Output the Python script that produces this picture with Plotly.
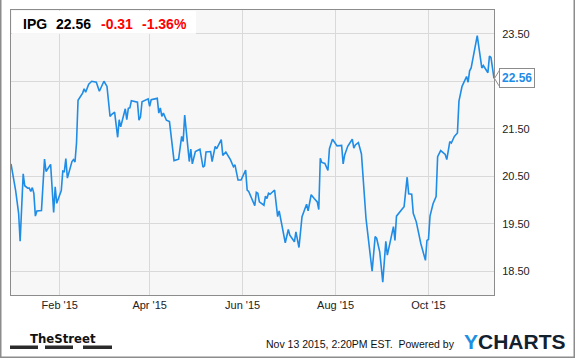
import plotly.graph_objects as go

# ---- data ----
dates = [
    "2014-12-31", "2015-01-03", "2015-01-05", "2015-01-06", "2015-01-08", "2015-01-09",
    "2015-01-11", "2015-01-12", "2015-01-13", "2015-01-14", "2015-01-15", "2015-01-16",
    "2015-01-17", "2015-01-20", "2015-01-22", "2015-01-23", "2015-01-26", "2015-01-28",
    "2015-01-29", "2015-01-30", "2015-02-02", "2015-02-03", "2015-02-04", "2015-02-05",
    "2015-02-06", "2015-02-09", "2015-02-10", "2015-02-11", "2015-02-12", "2015-02-13",
    "2015-02-16", "2015-02-17", "2015-02-18", "2015-02-20", "2015-02-22", "2015-02-25",
    "2015-02-27", "2015-03-02", "2015-03-04", "2015-03-06", "2015-03-07", "2015-03-09",
    "2015-03-11", "2015-03-12", "2015-03-13", "2015-03-16", "2015-03-17", "2015-03-18",
    "2015-03-19", "2015-03-20", "2015-03-24", "2015-03-25", "2015-03-26", "2015-03-27",
    "2015-03-31", "2015-04-01", "2015-04-02", "2015-04-06", "2015-04-07", "2015-04-08",
    "2015-04-09", "2015-04-10", "2015-04-12", "2015-04-14", "2015-04-17", "2015-04-20",
    "2015-04-22", "2015-04-23", "2015-04-24", "2015-04-27", "2015-04-28", "2015-04-29",
    "2015-05-01", "2015-05-04", "2015-05-06", "2015-05-07", "2015-05-08", "2015-05-11",
    "2015-05-12", "2015-05-14", "2015-05-15", "2015-05-18", "2015-05-19", "2015-05-21",
    "2015-05-24", "2015-05-26", "2015-05-27", "2015-05-29", "2015-05-31", "2015-06-03",
    "2015-06-04", "2015-06-05", "2015-06-09", "2015-06-10", "2015-06-11", "2015-06-12",
    "2015-06-15", "2015-06-16", "2015-06-17", "2015-06-18", "2015-06-19", "2015-06-22",
    "2015-06-24", "2015-06-25", "2015-06-29", "2015-07-01", "2015-07-02", "2015-07-05",
    "2015-07-06", "2015-07-08", "2015-07-10", "2015-07-13", "2015-07-14", "2015-07-16",
    "2015-07-18", "2015-07-20", "2015-07-21", "2015-07-22", "2015-07-23", "2015-07-25",
    "2015-07-27", "2015-07-28", "2015-07-30", "2015-08-02", "2015-08-05", "2015-08-06",
    "2015-08-07", "2015-08-09", "2015-08-12", "2015-08-13", "2015-08-14", "2015-08-16",
    "2015-08-18", "2015-08-21", "2015-08-25", "2015-08-27", "2015-08-28", "2015-08-30",
    "2015-09-01", "2015-09-03", "2015-09-04", "2015-09-06", "2015-09-08", "2015-09-09",
    "2015-09-10", "2015-09-14", "2015-09-15", "2015-09-17", "2015-09-18", "2015-09-20",
    "2015-09-21", "2015-09-23", "2015-09-26", "2015-09-29", "2015-09-30", "2015-10-01",
    "2015-10-02", "2015-10-04", "2015-10-06", "2015-10-07", "2015-10-09", "2015-10-12",
    "2015-10-13", "2015-10-15", "2015-10-16", "2015-10-18", "2015-10-20", "2015-10-21",
    "2015-10-22", "2015-10-23", "2015-10-24", "2015-10-26", "2015-10-27", "2015-10-28",
    "2015-10-29", "2015-11-02", "2015-11-05", "2015-11-06", "2015-11-09", "2015-11-10",
    "2015-11-11", "2015-11-13",
]
prices = [
    20.76, 20.21, 19.72, 19.13, 20.55, 20.30,
    20.25, 20.25, 20.18, 20.26, 20.14, 19.66,
    19.77, 19.78, 20.86, 20.60, 20.75, 19.74,
    20.28, 19.93, 20.20, 20.61, 20.60, 20.87,
    20.46, 20.81, 20.85, 20.80, 21.20, 22.10,
    22.25, 22.34, 22.27, 22.44, 22.50, 22.48,
    22.29, 22.50, 22.39, 21.76, 21.80, 21.85,
    21.32, 21.69, 21.54, 21.92, 21.69, 21.93,
    21.94, 22.09, 22.06, 21.68, 21.75, 22.07,
    22.13, 21.97, 22.11, 22.14, 21.83, 21.94,
    21.76, 21.83, 21.68, 21.65, 20.83, 20.86,
    21.34, 21.23, 21.79, 20.81, 21.07, 20.76,
    21.02, 21.07, 20.69, 20.72, 21.01, 21.02,
    20.81, 21.13, 21.08, 21.27, 20.94, 21.01,
    20.85, 20.70, 20.74, 20.42, 20.42, 20.63,
    20.21, 20.18, 19.88, 20.16, 20.14, 19.96,
    19.89, 20.08, 20.03, 20.14, 20.12, 20.21,
    19.65, 19.77, 19.10, 19.38, 19.26, 19.12,
    19.33, 19.00, 19.65, 19.91, 19.77, 20.11,
    20.03, 19.96, 19.80, 20.88, 20.79, 20.77,
    20.62, 21.08, 21.28, 21.14, 21.15, 20.76,
    20.95, 21.13, 21.28, 21.09, 21.16, 21.21,
    20.97, 19.61, 18.50, 19.23, 19.19, 18.91,
    18.27, 19.13, 18.84, 19.15, 19.44, 19.15,
    19.66, 19.82, 19.86, 20.48, 20.13, 20.12,
    19.72, 19.54, 19.08, 18.73, 19.15, 19.17,
    19.66, 19.92, 20.07, 20.91, 21.04, 20.96,
    20.85, 21.23, 21.20, 21.34, 21.41, 22.08,
    22.25, 22.39, 22.46, 22.60, 22.48, 22.72,
    22.78, 23.46, 22.78, 22.83, 22.68, 23.03,
    23.00, 22.56,
]

ticker = "IPG"
last_price = "22.56"
change = "-0.31"
change_pct = "-1.36%"

x_tick_dates = ["2015-02-01", "2015-04-01", "2015-06-01", "2015-08-01", "2015-10-01"]
x_tick_labels = ["Feb '15", "Apr '15", "Jun '15", "Aug '15", "Oct '15"]
y_tick_vals = [18.5, 19.5, 20.5, 21.5, 22.5, 23.5]
# the 22.50 label sits under the last-value marker in the reference
y_tick_labels = ["18.50", "19.50", "20.50", "21.50", "", "23.50"]

footer_text = "Nov 13 2015, 2:20PM EST.  Powered by"

# ---- layout geometry ----
W, H = 575, 358
ML, MR, MT, MB = 11, 81, 10, 63
PW = W - ML - MR
PH = H - MT - MB

def px(xp):
    return (xp - ML) / PW

def py(yp):
    return (H - MB - yp) / PH

LINE = "#1f8ce6"
FONT = "Liberation Sans, Arial, sans-serif"

fig = go.Figure()
fig.add_trace(go.Scatter(
    x=dates, y=prices, mode="lines",
    line=dict(color=LINE, width=1.6),
    hoverinfo="skip", showlegend=False,
))

ann = []
# header
ann.append(dict(text="<b>" + ticker + "</b>", x=px(21), y=py(23.5), xanchor="left", yanchor="middle",
                font=dict(family=FONT, size=14, color="#000000")))
ann.append(dict(text="<b>" + last_price + "</b>", x=px(54), y=py(23.5), xanchor="left", yanchor="middle",
                font=dict(family=FONT, size=14, color="#000000")))
ann.append(dict(text="<b>" + change + "</b>", x=px(99), y=py(23.5), xanchor="left", yanchor="middle",
                font=dict(family=FONT, size=14, color="#ff0000")))
ann.append(dict(text="<b>" + change_pct + "</b>", x=px(140), y=py(23.5), xanchor="left", yanchor="middle",
                font=dict(family=FONT, size=14, color="#ff0000")))
# last value marker
ann.append(dict(text="<b>" + last_price + "</b>", x=px(499), y=prices[-1], yref="y",
                xanchor="left", yanchor="middle", bgcolor="#ffffff",
                bordercolor="#8c8c8c", borderwidth=1, borderpad=2,
                font=dict(family=FONT, size=12, color=LINE)))
# footer
ann.append(dict(text="<b>TheStreet</b>", x=px(62.5), y=py(338), xanchor="center", yanchor="middle",
                font=dict(family="DejaVu Sans Condensed, Liberation Sans", size=13, color="#111111")))
ann.append(dict(text=footer_text, x=px(457), y=py(344), xanchor="right", yanchor="middle",
                font=dict(family=FONT, size=10.5, color="#111111")))
ann.append(dict(text="<b><span style='color:#1e8fe3'>Y</span>CHARTS</b>", x=px(462), y=py(341.5),
                xanchor="left", yanchor="middle",
                font=dict(family=FONT, size=21, color="#13212f")))
for a in ann:
    a.setdefault("xref", "paper")
    a.setdefault("yref", "paper")
    a["showarrow"] = False

shapes = []
# header white band
shapes.append(dict(type="rect", xref="paper", yref="paper", x0=px(12), x1=px(196), y0=py(11), y1=py(33.8),
                   fillcolor="#ffffff", line=dict(width=0), layer="above"))
# marker notch (arrow pointing to the line end)
yl = prices[-1]
dpx = 1 / 47.4
shapes.append(dict(type="path", xref="paper", yref="y",
                   path=f"M {px(499.5)} {yl + 8.2*dpx} L {px(494.5)} {yl} L {px(499.5)} {yl - 8.2*dpx} Z",
                   fillcolor="#ffffff", line=dict(color="#8c8c8c", width=1), layer="above"))
shapes.append(dict(type="line", xref="paper", yref="y", x0=px(499.9), x1=px(499.9),
                   y0=yl + 7.6*dpx, y1=yl - 7.6*dpx, line=dict(color="#ffffff", width=2), layer="above"))
# TheStreet bars
for x0, x1 in [(10, 38), (45, 73), (83, 112)]:
    shapes.append(dict(type="rect", xref="paper", yref="paper", x0=px(x0), x1=px(x1),
                       y0=py(345.5), y1=py(349), fillcolor="#2b2b2b", line=dict(width=0)))
# outer border (left, right, bottom)
for s in [dict(x0=px(0.75), x1=px(0.75), y0=py(0), y1=py(357.25)),
          dict(x0=px(574.25), x1=px(574.25), y0=py(0), y1=py(357.25)),
          dict(x0=px(0), x1=px(575), y0=py(357.25), y1=py(357.25))]:
    shapes.append(dict(type="line", xref="paper", yref="paper", line=dict(color="#8c8c8c", width=1.5), **s))

fig.update_layout(
    width=W, height=H,
    margin=dict(l=ML, r=MR, t=MT, b=MB),
    paper_bgcolor="#ffffff", plot_bgcolor="#f7f7f7",
    annotations=ann, shapes=shapes,
    showlegend=False,
    xaxis=dict(
        type="date", range=["2014-12-31", "2015-11-13"],
        tickvals=x_tick_dates, ticktext=x_tick_labels,
        showgrid=True, gridcolor="#d9d9d9", gridwidth=1,
        showline=True, linecolor="#8c8c8c", linewidth=1, mirror=True,
        ticks="", zeroline=False,
        tickfont=dict(family=FONT, size=11, color="#222222"),
    ),
    yaxis=dict(
        range=[18.0, 24.0], side="right",
        tickvals=y_tick_vals, ticktext=y_tick_labels,
        showgrid=True, gridcolor="#d9d9d9", gridwidth=1,
        showline=True, linecolor="#8c8c8c", linewidth=1, mirror=True,
        ticks="", zeroline=False, ticklabelstandoff=5,
        tickfont=dict(family=FONT, size=11, color="#222222"),
    ),
)

fig.write_html("out.html")
